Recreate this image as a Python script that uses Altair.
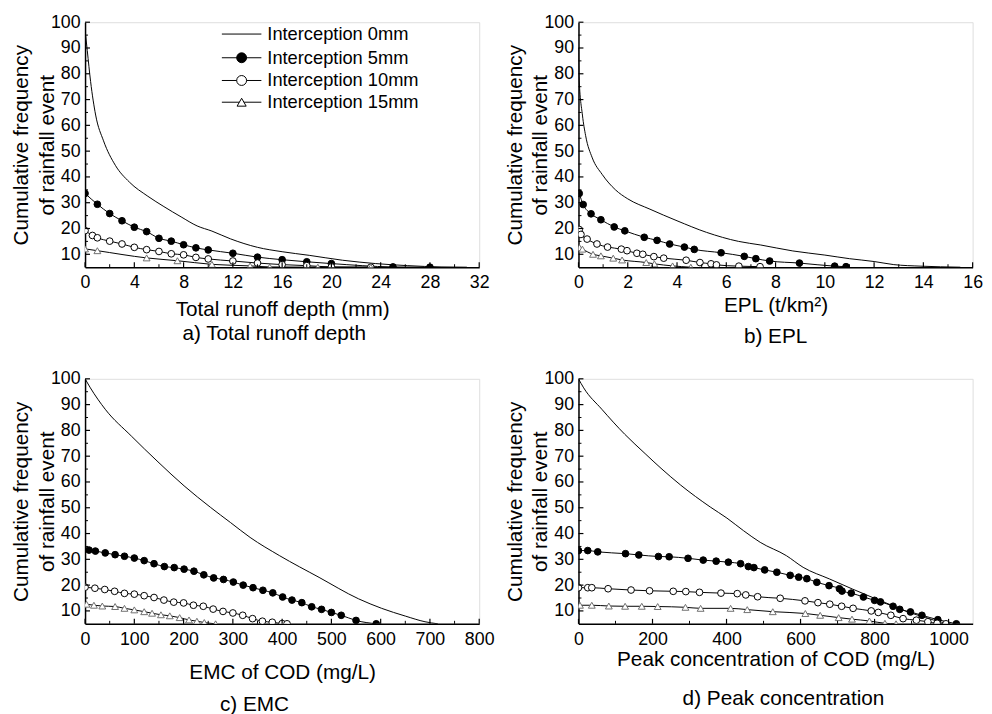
import altair as alt
import pandas as pd

FONT = "Liberation Sans"
W, H = 399, 248
SERIES = ["Interception 0mm", "Interception 5mm", "Interception 10mm", "Interception 15mm"]

# ---------------- a) Total runoff depth ----------------
a_x0 = [0, 0.18, 0.45, 0.86, 1.5, 2.46, 3.6, 5.1, 6.4, 7.8, 9.1, 10.3, 11.8, 14, 16, 18.2, 20.9, 23.6, 26.2, 28.9, 31]
a_y0 = [97, 89, 77, 64, 54, 44.5, 38, 32.5, 28.5, 24.5, 21, 19, 16, 12.7, 11, 9.6, 7.7, 6.4, 5.6, 5.1, 5.0]
a_x5 = [0, 1, 2, 3, 4, 5, 6, 7, 8, 9, 10, 12, 14, 16, 18, 20, 25, 28]
a_y5 = [33.6, 29.4, 25.8, 23.0, 20.5, 18.8, 16.2, 15.1, 13.7, 12.5, 11.7, 10.4, 8.9, 7.9, 7.1, 6.4, 5.1, 5.0]
a_x10 = [0, 0.6, 1, 2, 3, 4, 5, 6, 7, 8, 9, 10, 12, 14, 16, 18, 20, 23.2]
a_y10 = [19.2, 17.3, 16.4, 15.1, 14.0, 12.7, 11.8, 11.1, 10.2, 9.8, 8.8, 8.2, 7.4, 6.6, 6.0, 5.6, 5.1, 5.0]
a_x15 = [0, 1, 5, 7.5, 10.3, 13.4, 15, 18.9, 23.2]
a_y15 = [12.1, 11.4, 8.6, 7.5, 6.1, 5.5, 5.1, 5.0, 5.0]

# ---------------- b) EPL ----------------
b_x0 = [0, 0.02, 0.16, 0.29, 0.56, 0.96, 1.5, 2.0, 2.9, 4.0, 5.2, 6.5, 7.4, 8.7, 10.0, 11.0, 12.0, 12.8, 13.9, 15.5]
b_y0 = [90, 79, 64, 56, 47.4, 41, 35, 31.5, 27.5, 23, 18.5, 15, 13.6, 11.3, 9.7, 8.3, 7.2, 6.0, 5.4, 5.0]
b_x5 = [0.03, 0.19, 0.51, 0.91, 1.45, 1.88, 2.67, 3.19, 3.7, 4.3, 4.7, 5.79, 6.73, 7.2, 7.76, 8.97, 10.4, 10.86]
b_y5 = [33.6, 29.3, 25.7, 23.4, 20.6, 19.1, 16.6, 15.4, 14.0, 12.8, 11.9, 10.6, 9.2, 8.3, 7.4, 6.6, 5.4, 5.2]
b_x10 = [0.03, 0.1, 0.35, 0.75, 1.18, 1.74, 1.97, 2.37, 2.61, 3.06, 3.46, 4.37, 4.93, 5.38, 5.6, 6.51, 7.37]
b_y10 = [19.6, 17.7, 15.9, 14.0, 12.8, 12.0, 11.4, 10.4, 10.0, 9.1, 8.5, 7.7, 6.8, 6.3, 5.9, 5.4, 5.2]
b_x15 = [0.04, 0.16, 0.59, 0.91, 1.41, 1.77, 2.75, 3.08, 3.82, 4.56]
b_y15 = [12.6, 12.0, 10.0, 9.4, 8.5, 7.8, 6.8, 6.3, 5.5, 5.0]

# ---------------- c) EMC ----------------
c_x0 = [0, 10.8, 40.9, 94, 148, 201, 255, 295, 335, 395, 475, 555, 602, 650, 690, 716]
c_y0 = [100, 96.5, 88.2, 77.8, 67.8, 58.5, 50.1, 44.3, 38.5, 31.4, 23, 14.7, 11.0, 8.0, 5.8, 5.0]
c_x5 = [8, 21, 41, 61, 80, 100, 120, 140, 161, 181, 201, 221, 241, 261, 281, 301, 321, 341, 361, 381,
        401, 420, 440, 460, 480, 500, 520, 550, 591]
c_y5 = [33.6, 33.2, 32.5, 31.8, 31.2, 30.5, 29.5, 28.3, 27.2, 26.8, 26.2, 25.4, 24.0, 22.8, 22.2, 21.2,
        20.0, 19.0, 18.0, 17.0, 15.4, 14.2, 13.2, 11.6, 10.6, 9.4, 8.3, 6.3, 5.0]
c_x10 = [0, 20, 40, 60, 80, 100, 120, 140, 160, 180, 200, 220, 240, 260, 280, 300, 320, 340, 360, 380, 400, 410]
c_y10 = [19.2, 18.8, 18.3, 17.6, 16.8, 16.5, 15.9, 15.2, 14.2, 13.4, 13.1, 12.2, 11.8, 10.7, 9.8, 9.2,
         8.3, 7.0, 6.0, 5.6, 5.1, 5.0]
c_x15 = [3, 18, 35, 61, 80, 100, 120, 136, 154, 172, 192, 211, 227, 242, 265]
c_y15 = [12.6, 12.2, 11.9, 11.7, 11.0, 10.4, 9.7, 9.1, 8.5, 8.1, 7.4, 6.5, 6.0, 5.5, 5.0]

# ---------------- d) Peak concentration ----------------
d_x0 = [0, 14, 63, 125, 180, 223, 276, 356, 401, 446, 491, 562, 607, 678, 740, 803, 848, 892, 937, 981, 1005]
d_y0 = [100, 96.5, 88.2, 78.5, 71, 65.3, 58.8, 50.3, 46, 41.1, 36.6, 31.4, 26.9, 22.4, 18.5, 14.7, 12.1,
        9.5, 7.5, 5.6, 5.0]
d_x5 = [0, 25, 52, 127, 163, 216, 245, 296, 337, 372, 405, 438, 459, 474, 503, 536, 572, 595, 617, 644,
        677, 705, 712, 737, 770, 800, 816, 850, 868, 897, 928, 971, 1021]
d_y5 = [33.4, 33.4, 32.9, 32.2, 31.7, 31.1, 31.0, 30.4, 29.7, 29.3, 28.9, 28.3, 27.2, 26.8, 25.9, 25.0,
        23.8, 23.1, 22.5, 21.1, 19.8, 18.6, 17.7, 16.9, 15.4, 14.1, 13.5, 11.8, 10.6, 9.6, 8.3, 6.6, 5.0]
d_x10 = [0, 25, 36, 80, 142, 192, 256, 290, 327, 385, 429, 452, 484, 545, 612, 647, 679, 711, 742, 791,
         810, 844, 877, 913, 944, 969, 993]
d_y10 = [19.0, 19.0, 19.0, 18.6, 18.1, 17.8, 17.6, 17.5, 17.2, 16.9, 16.7, 16.2, 15.5, 14.9, 13.9, 13.2,
         12.6, 11.8, 11.0, 10.0, 9.4, 8.3, 7.0, 6.4, 5.8, 5.2, 5.0]
d_x15 = [4, 36, 82, 126, 171, 214, 289, 330, 411, 456, 525, 613, 653, 703, 739, 786, 828, 858]
d_y15 = [12.2, 12.2, 11.9, 11.8, 11.8, 11.7, 11.4, 11.0, 11.0, 10.5, 9.7, 9.0, 8.3, 7.4, 6.8, 6.1, 5.2, 5.0]

Y_MAJOR = [10, 20, 30, 40, 50, 60, 70, 80, 90, 100]
Y_MINOR = [15, 25, 35, 45, 55, 65, 75, 85, 95]

STYLE = {
    SERIES[1]: dict(shape="circle", fill="black", stroke="black", size=46),
    SERIES[2]: dict(shape="circle", fill="white", stroke="black", size=46),
    SERIES[3]: dict(shape="triangle-up", fill="white", stroke="#707070", size=48),
}
LEG_STYLE = {
    SERIES[1]: dict(shape="circle", fill="black", stroke="black", size=100),
    SERIES[2]: dict(shape="circle", fill="white", stroke="black", size=100),
    SERIES[3]: dict(shape="triangle-up", fill="white", stroke="black", size=85),
}


def make_df(xs_list, ys_list):
    frames = [pd.DataFrame({"series": s, "x": xs, "y": ys})
              for s, xs, ys in zip(SERIES, xs_list, ys_list)]
    return pd.concat(frames, ignore_index=True)


def panel(df, xdom, xmajor, xminor, xtitle, subtitle, x_title_pad, sub_offset, sub_dx, legend=False):
    xsc = alt.Scale(domain=xdom, nice=False, zero=False)
    ysc = alt.Scale(domain=[5, 100], nice=False, zero=False)
    xaxis = alt.Axis(values=xmajor, format="d", ticks=False, tickSize=0, grid=False,
                     domainColor="black", domainWidth=1.5,
                     labelFont=FONT, labelFontSize=18, labelColor="black", labelPadding=7,
                     labelFlush=False, labelOverlap=False,
                     title=xtitle, titleFont=FONT, titleFontSize=21, titleFontWeight="normal",
                     titleColor="black", titlePadding=x_title_pad)
    yaxis = alt.Axis(values=Y_MAJOR, format="d", ticks=False, tickSize=0, grid=False,
                     domainColor="black", domainWidth=1.5,
                     labelFont=FONT, labelFontSize=18, labelColor="black", labelPadding=5,
                     labelFlush=False, labelOverlap=False,
                     title=["Cumulative frequency", "of rainfall event"], titleFont=FONT,
                     titleFontSize=21, titleFontWeight="normal", titleColor="black",
                     titlePadding=-3, titleLineHeight=26, titleBaseline="alphabetic")
    X = alt.X("x:Q", scale=xsc, axis=xaxis)
    Y = alt.Y("y:Q", scale=ysc, axis=yaxis)
    base = alt.Chart(df)
    layers = [base.mark_line(color="black", strokeWidth=1, interpolate="monotone", clip=True)
              .encode(x=X, y=Y, detail="series:N")]
    for s in SERIES[1:]:
        st = STYLE[s]
        layers.append(
            base.transform_filter(alt.datum.series == s)
            .mark_point(shape=st["shape"], filled=True, fill=st["fill"], stroke=st["stroke"],
                        strokeWidth=1, size=st["size"], opacity=1, fillOpacity=1, clip=True)
            .encode(x=X, y=Y)
        )
    # inward ticks
    tx_major = pd.DataFrame({"x": xmajor})
    tx_minor = pd.DataFrame({"x": xminor})
    ty_major = pd.DataFrame({"y": Y_MAJOR})
    ty_minor = pd.DataFrame({"y": Y_MINOR})
    layers.append(alt.Chart(tx_major).mark_rule(color="black", strokeWidth=1.2)
                  .encode(x=X, y=alt.value(H), y2=alt.value(H - 5)))
    layers.append(alt.Chart(tx_minor).mark_rule(color="black", strokeWidth=1)
                  .encode(x=X, y=alt.value(H), y2=alt.value(H - 3)))
    layers.append(alt.Chart(ty_major).mark_rule(color="black", strokeWidth=1.2)
                  .encode(y=Y, x=alt.value(0), x2=alt.value(5)))
    layers.append(alt.Chart(ty_minor).mark_rule(color="black", strokeWidth=1)
                  .encode(y=Y, x=alt.value(0), x2=alt.value(3)))
    if legend:
        rows_y = [12, 36, 59, 81]
        for s, ry in zip(SERIES, rows_y):
            ldf = pd.DataFrame({"label": [s]})
            layers.append(alt.Chart(ldf).mark_rule(color="black", strokeWidth=1)
                          .encode(x=alt.value(138.5), x2=alt.value(178.5), y=alt.value(ry)))
            if s in LEG_STYLE:
                st = LEG_STYLE[s]
                layers.append(alt.Chart(ldf)
                              .mark_point(shape=st["shape"], filled=True, fill=st["fill"],
                                          stroke=st["stroke"], strokeWidth=1, size=st["size"],
                                          opacity=1, fillOpacity=1)
                              .encode(x=alt.value(158.5), y=alt.value(ry)))
            layers.append(alt.Chart(ldf)
                          .mark_text(align="left", baseline="middle", font=FONT, fontSize=18.5,
                                     color="black")
                          .encode(x=alt.value(184.5), y=alt.value(ry), text="label:N"))
    return alt.layer(*layers).properties(
        width=W, height=H,
        title=alt.TitleParams(text=subtitle, orient="bottom", anchor="middle", frame="group",
                              font=FONT, fontSize=21, fontWeight="normal", color="black",
                              offset=sub_offset, dx=sub_dx),
    )


pa = panel(make_df([a_x0, a_x5, a_x10, a_x15], [a_y0, a_y5, a_y10, a_y15]),
           [0, 32], [0, 4, 8, 12, 16, 20, 24, 28, 32], [2, 6, 10, 14, 18, 22, 26, 30],
           "Total runoff depth (mm)", "a) Total runoff depth", 7, 4, -8, legend=True)
pb = panel(make_df([b_x0, b_x5, b_x10, b_x15], [b_y0, b_y5, b_y10, b_y15]),
           [0, 16], [0, 2, 4, 6, 8, 10, 12, 14, 16], [1, 3, 5, 7, 9, 11, 13, 15],
           "EPL  (t/km²)", "b) EPL", 3, 11, 0)
pc = panel(make_df([c_x0, c_x5, c_x10, c_x15], [c_y0, c_y5, c_y10, c_y15]),
           [0, 800], [0, 100, 200, 300, 400, 500, 600, 700, 800], [50, 150, 250, 350, 450, 550, 650, 750],
           "EMC of COD (mg/L)", "c) EMC", 13.5, 11.5, -28)
pd_ = panel(make_df([d_x0, d_x5, d_x10, d_x15], [d_y0, d_y5, d_y10, d_y15]),
            [0, 1065], [0, 200, 400, 600, 800, 1000], [100, 300, 500, 700, 900],
            "Peak concentration of COD (mg/L)", "d) Peak concentration", 0.5, 19, 8)

chart = alt.vconcat(
    alt.hconcat(pa, pb, spacing=13.5),
    alt.hconcat(pc, pd_, spacing=8.5),
    spacing=21,
).properties(
    padding={"left": 2, "top": 0, "right": 0, "bottom": 0},
).configure_view(stroke=None).configure(background="white")

chart.save("out.html", embed_options={"renderer": "svg", "actions": False})
